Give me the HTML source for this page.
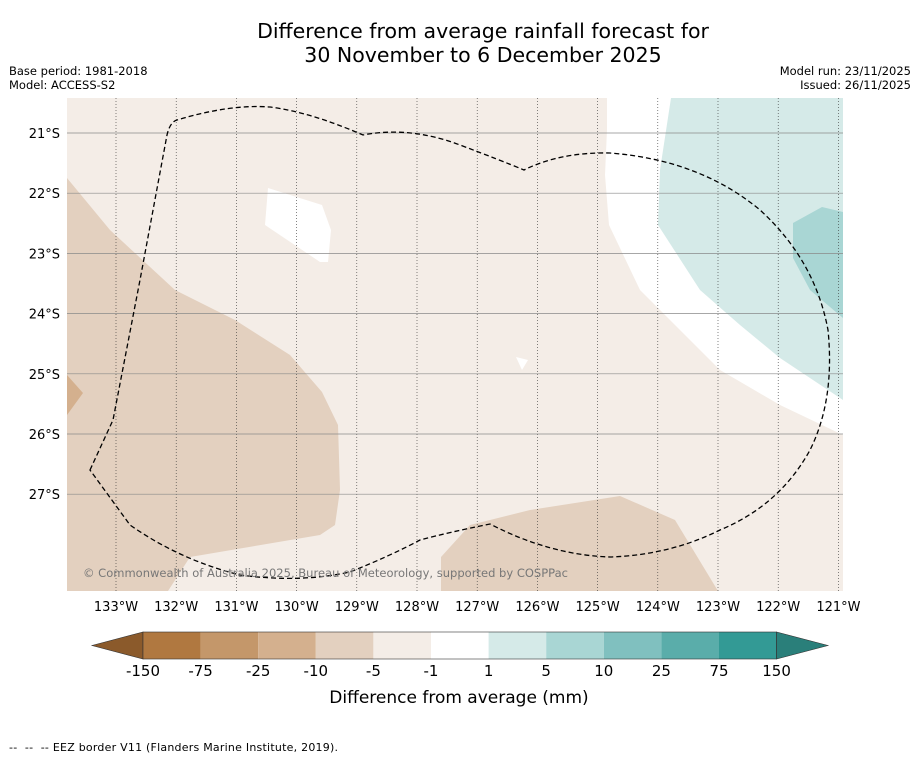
<!DOCTYPE html>
<html><head><meta charset="utf-8"><style>
body{margin:0;background:#fff;font-family:"Liberation Sans","DejaVu Sans",sans-serif;}
#wrap{position:relative;width:919px;height:758px;overflow:hidden;background:#fff}
</style></head><body>
<div id="wrap">
<svg id="svg" width="919" height="758" viewBox="0 0 919 758" xmlns="http://www.w3.org/2000/svg" font-family="DejaVu Sans, Liberation Sans, sans-serif">
<text x="483" y="38" font-size="20.5" text-anchor="middle">Difference from average rainfall forecast for</text>
<text x="483" y="62" font-size="20.5" text-anchor="middle">30 November to 6 December 2025</text>
<text x="9" y="75" font-size="11.5">Base period: 1981-2018</text>
<text x="9" y="89" font-size="11.5">Model: ACCESS-S2</text>
<text x="911" y="75" font-size="11.5" text-anchor="end">Model run: 23/11/2025</text>
<text x="911" y="89" font-size="11.5" text-anchor="end">Issued: 26/11/2025</text>
<defs><clipPath id="mc"><rect x="67" y="98" width="776" height="493"/></clipPath></defs>
<g id="map" clip-path="url(#mc)">
<rect x="67" y="98" width="776" height="493" fill="#f4ede7"/>
<polygon fill="#e3d0bf" points="67,178 110,230 175,290 235,320 290,355 322,392 338,425 340,490 335,525 320,535 190,557 168,591 67,591"/>
<polygon fill="#d4b08e" points="67,375 83,393 67,415"/>
<polygon fill="#e3d0bf" points="441,557 470,525 530,510 620,496 675,520 718,591 441,591"/>
<polygon fill="#fff" points="268,188 322,205 331,230 328,262 320,262 265,225"/>
<polygon fill="#fff" points="516,357 528,360 522,370"/>
<polygon fill="#fff" points="607,98 607,130 605,175 609,225 640,290 720,370 780,405 843,435 843,98"/>
<polygon fill="#d5eae8" points="671,98 660,170 658,225 700,290 740,325 780,358 843,400 843,98"/>
<polygon fill="#a9d6d4" points="793,223 822,207 843,212 843,318 810,290 793,258"/>
<g id="grid"></g>
<path fill="none" stroke="#000" stroke-width="1.3" stroke-dasharray="5,3" d="M90,470 L113,420 L140,280 L167,135 Q170,122 177,120 Q230,104 270,107 Q310,112 363,135 Q410,126 460,145 Q500,160 524,170 Q560,152 610,153 Q700,160 760,210 Q815,260 828,330 Q835,400 810,450 Q780,505 720,530 Q670,555 610,557 Q550,555 490,524 Q450,532 420,540 Q390,556 350,572 Q300,583 240,575 Q180,560 130,525 Z"/>
<text x="83" y="577" font-size="11.5" fill="#777" textLength="485">© Commonwealth of Australia 2025, Bureau of Meteorology, supported by COSPPac</text>
</g>
<g id="axes"></g>
<g id="cbar"></g>
<text x="459" y="703" font-size="17" text-anchor="middle">Difference from average (mm)</text>
<text x="9" y="751" font-size="11" textLength="329" xml:space="preserve">--  --  -- EEZ border V11 (Flanders Marine Institute, 2019).</text>
</svg>
</div>
<script>
const lonTicks=[133,132,131,130,129,128,127,126,125,124,123,122,121];
const latTicks=[21,22,23,24,25,26,27];
const cbarLabels=["-150","-75","-25","-10","-5","-1","1","5","10","25","75","150"];
const cbarColors=["#b07840","#c4976a","#d4b08e","#e3d0bf","#f4ede7","#ffffff","#d5eae8","#a9d6d4","#80c0bf","#5aadaa","#339a95"];
const NS="http://www.w3.org/2000/svg";
function xLon(l){return 116+(133-l)*60.2;}
function yLat(l){return 133+(l-21)*60.2;}
function mk(tag,attrs,parent,txt){const e=document.createElementNS(NS,tag);for(const k in attrs)e.setAttribute(k,attrs[k]);if(txt!==undefined)e.textContent=txt;parent.appendChild(e);return e;}
const grid=document.getElementById('grid'),axes=document.getElementById('axes'),cb=document.getElementById('cbar');
lonTicks.forEach(l=>{const x=xLon(l);
 const g=mk('line',{x1:x,x2:x,y1:98,y2:591,stroke:'#333','stroke-width':0.6,'stroke-dasharray':'1,2'},grid);
 
 
 const t=mk('text',{x:x,y:611,'font-size':13,'text-anchor':'middle'},axes,l+'°W');
 
 
});
latTicks.forEach(l=>{const y=yLat(l);
 const g=mk('line',{x1:67,x2:843,y1:y,y2:y,stroke:'#8a8a8a','stroke-width':0.7},grid);
 
 
 const t=mk('text',{x:60,y:y+5,'font-size':13,'text-anchor':'end'},axes,l+'°S');
 
 
});
const x0=143,w=57.6,y0=632,h=27;
const la=mk('polygon',{points:`${x0},${y0} ${x0},${y0+h} 92,${y0+h/2}`,fill:'#8b5a2b',stroke:'#333','stroke-width':0.6},cb);


cbarColors.forEach((c,i)=>{const r=mk('rect',{x:x0+i*w,y:y0,width:w,height:h,fill:c},cb);
 
 
});
const xe=x0+cbarColors.length*w;
const ra=mk('polygon',{points:`${xe},${y0} ${xe},${y0+h} 828,${y0+h/2}`,fill:'#2a7f7a',stroke:'#333','stroke-width':0.6},cb);


mk('rect',{x:x0,y:y0,width:xe-x0,height:h,fill:'none',stroke:'#333','stroke-width':0.6},cb);
cbarLabels.forEach((s,i)=>{const t=mk('text',{x:x0+i*w,y:676,'font-size':15,'text-anchor':'middle'},cb,s);
 
 
});
</script>
</body></html>
